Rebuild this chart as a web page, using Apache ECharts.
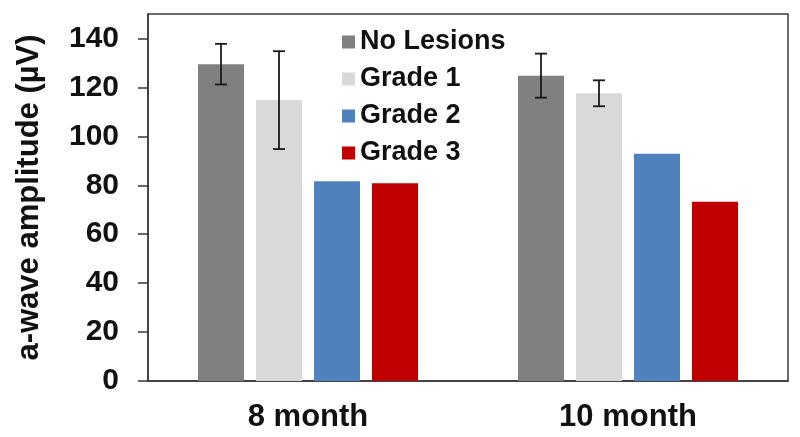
<!DOCTYPE html>
<html>
<head>
<meta charset="utf-8">
<script src="https://cdn.jsdelivr.net/npm/echarts@6/dist/echarts.min.js"></script>
<style>html,body{margin:0;padding:0;background:#fff}#c{width:800px;height:437px}</style>
</head>
<body>
<div id="c"></div>
<script>
var categories = ['8 month', '10 month'];
var seriesNames = ['No Lesions', 'Grade 1', 'Grade 2', 'Grade 3'];
var noLesions = [129.5, 124.8];
var grade1 = [114.8, 117.6];
var grade2 = [81.6, 92.9];
var grade3 = [80.8, 73.3];
var noLesionsErr = [8.3, 9.0];
var grade1Err = [20.0, 5.3];
var yTicks = [0, 20, 40, 60, 80, 100, 120, 140];

var colors = ['#808080', '#d9d9d9', '#4f81bd', '#c00000'];
var values = [noLesions, grade1, grade2, grade3];
var errs = [noLesionsErr, grade1Err, null, null];
var BAR_W = 46, BAR_GAP = 12;
var FONT = 'Liberation Sans, Arial, sans-serif';

var chart = echarts.init(document.getElementById('c'), null, {renderer: 'canvas'});

var series = [];
values.forEach(function (v, i) {
  series.push({
    name: seriesNames[i], type: 'bar', data: v, barWidth: BAR_W,
    barGap: (BAR_GAP / BAR_W * 100) + '%',
    itemStyle: {color: colors[i]}, z: 2
  });
});
errs.forEach(function (e, i) {
  if (!e) return;
  var data = categories.map(function (c, j) { return [j, values[i][j] - e[j], values[i][j] + e[j]]; });
  var offset = (i - 1.5) * (BAR_W + BAR_GAP);
  series.push({
    type: 'custom', name: seriesNames[i] + ' err', data: data, z: 5,
    renderItem: function (params, api) {
      var lo = api.coord([api.value(0), api.value(1)]);
      var hi = api.coord([api.value(0), api.value(2)]);
      var x = lo[0] + offset, cw = 6;
      var st = {stroke: '#1a1a1a', lineWidth: 1.8};
      return {type: 'group', children: [
        {type: 'line', shape: {x1: x, y1: lo[1], x2: x, y2: hi[1]}, style: st},
        {type: 'line', shape: {x1: x - cw, y1: lo[1], x2: x + cw, y2: lo[1]}, style: st},
        {type: 'line', shape: {x1: x - cw, y1: hi[1], x2: x + cw, y2: hi[1]}, style: st}
      ]};
    },
    encode: {x: 0, y: [1, 2]}
  });
});

chart.setOption({
  animation: false,
  textStyle: {fontFamily: FONT},
  grid: {left: 148, right: 12, top: 14, bottom: 56, show: true, borderColor: '#3a3a3a', borderWidth: 1.5, backgroundColor: 'transparent'},
  legend: {
    data: seriesNames, orient: 'vertical', left: 337, top: 23,
    itemWidth: 13, itemHeight: 13, itemGap: 9,
    icon: 'rect',
    textStyle: {fontFamily: FONT, fontSize: 27, fontWeight: 'bold', color: '#111', lineHeight: 28},
    selectedMode: false
  },
  xAxis: {
    type: 'category', data: categories,
    axisLine: {lineStyle: {color: '#3a3a3a', width: 1.5}},
    axisTick: {show: false},
    axisLabel: {fontFamily: FONT, fontSize: 31, fontWeight: 'bold', color: '#111', margin: 21}
  },
  yAxis: {
    type: 'value', min: 0, max: 150, interval: 20,
    name: 'a-wave amplitude (µV)', nameLocation: 'middle', nameGap: 103, nameRotate: 90,
    nameTextStyle: {fontFamily: FONT, fontSize: 31, fontWeight: 'bold', color: '#111'},
    axisLine: {show: true, lineStyle: {color: '#3a3a3a', width: 1.5}},
    axisTick: {show: true, inside: false, length: 10, lineStyle: {color: '#3a3a3a', width: 1.5}, customValues: yTicks},
    axisLabel: {fontFamily: FONT, fontSize: 30, fontWeight: 'bold', color: '#111', margin: 29, customValues: yTicks},
    splitLine: {show: false}
  },
  series: series
});
</script>
</body>
</html>
